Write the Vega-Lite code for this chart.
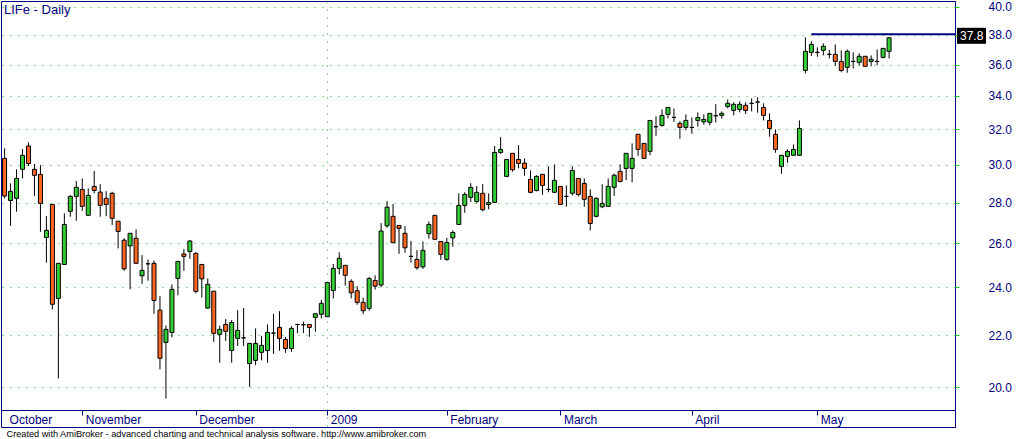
{
  "$schema": "https://vega.github.io/schema/vega-lite/v6.json",
  "width": 954,
  "height": 426,
  "autosize": {"type": "none"},
  "padding": {"left": 1, "top": 1, "right": 61, "bottom": 12},
  "background": "white",
  "title": {"text": "LIFe - Daily", "anchor": "start", "frame": "group", "offset": -16, "font": "Liberation Sans", "fontSize": 13, "fontWeight": "normal", "color": "#000080", "dx": 3},
  "datasets": {
    "candles": [
      {"i":0,"o":30.35,"h":30.91,"l":28.22,"c":28.34},
      {"i":1,"o":28.11,"h":29.00,"l":26.84,"c":28.58},
      {"i":2,"o":28.22,"h":29.75,"l":27.54,"c":29.26},
      {"i":3,"o":29.75,"h":30.87,"l":29.26,"c":30.52},
      {"i":4,"o":31.04,"h":31.25,"l":29.93,"c":30.07},
      {"i":5,"o":29.75,"h":30.04,"l":28.35,"c":29.43},
      {"i":6,"o":29.48,"h":29.98,"l":26.55,"c":27.96},
      {"i":7,"o":26.28,"h":27.32,"l":25.10,"c":26.62},
      {"i":8,"o":27.91,"h":27.91,"l":23.05,"c":23.27},
      {"i":9,"o":23.52,"h":25.07,"l":20.33,"c":25.07},
      {"i":10,"o":25.02,"h":27.46,"l":25.02,"c":26.91},
      {"i":11,"o":27.56,"h":28.39,"l":27.29,"c":28.32},
      {"i":12,"o":28.32,"h":29.12,"l":27.09,"c":28.79},
      {"i":13,"o":28.68,"h":29.26,"l":27.59,"c":27.81},
      {"i":14,"o":27.36,"h":28.74,"l":27.36,"c":28.37},
      {"i":15,"o":28.84,"h":29.66,"l":28.48,"c":28.63},
      {"i":16,"o":28.54,"h":28.96,"l":27.29,"c":27.86},
      {"i":17,"o":28.22,"h":28.59,"l":27.32,"c":27.91},
      {"i":18,"o":28.48,"h":28.56,"l":26.88,"c":27.21},
      {"i":19,"o":27.07,"h":27.07,"l":25.76,"c":26.57},
      {"i":20,"o":26.15,"h":26.24,"l":24.73,"c":24.82},
      {"i":21,"o":25.88,"h":26.48,"l":23.91,"c":26.48},
      {"i":22,"o":26.24,"h":26.67,"l":25.07,"c":25.07},
      {"i":23,"o":24.51,"h":25.45,"l":24.15,"c":24.75},
      {"i":24,"o":25.05,"h":25.25,"l":24.29,"c":25.05},
      {"i":25,"o":25.07,"h":25.20,"l":22.87,"c":23.43},
      {"i":26,"o":23.02,"h":23.62,"l":20.67,"c":21.09},
      {"i":27,"o":21.71,"h":22.39,"l":19.60,"c":22.23},
      {"i":28,"o":22.11,"h":24.13,"l":21.91,"c":23.91},
      {"i":29,"o":24.39,"h":25.16,"l":23.65,"c":25.16},
      {"i":30,"o":25.50,"h":25.73,"l":24.73,"c":25.39},
      {"i":31,"o":25.62,"h":26.15,"l":25.28,"c":26.11},
      {"i":32,"o":25.53,"h":25.58,"l":23.74,"c":23.82},
      {"i":33,"o":25.02,"h":25.04,"l":23.56,"c":24.37},
      {"i":34,"o":23.11,"h":24.39,"l":23.08,"c":24.13},
      {"i":35,"o":23.83,"h":23.83,"l":21.73,"c":22.07},
      {"i":36,"o":22.03,"h":22.38,"l":20.92,"c":22.23},
      {"i":37,"o":22.43,"h":22.65,"l":21.77,"c":22.15},
      {"i":38,"o":21.39,"h":22.61,"l":20.92,"c":22.51},
      {"i":39,"o":21.87,"h":23.02,"l":21.57,"c":22.19},
      {"i":40,"o":21.89,"h":23.11,"l":21.57,"c":21.89},
      {"i":41,"o":20.89,"h":21.67,"l":20.02,"c":21.67},
      {"i":42,"o":21.01,"h":22.27,"l":20.83,"c":21.67},
      {"i":43,"o":21.32,"h":21.97,"l":21.01,"c":21.59},
      {"i":44,"o":21.39,"h":22.43,"l":20.92,"c":22.11},
      {"i":45,"o":22.08,"h":22.87,"l":21.26,"c":22.08},
      {"i":46,"o":22.31,"h":22.98,"l":21.38,"c":21.87},
      {"i":47,"o":21.83,"h":21.93,"l":21.30,"c":21.47},
      {"i":48,"o":21.47,"h":22.36,"l":21.34,"c":22.27},
      {"i":49,"o":22.43,"h":22.43,"l":22.08,"c":22.43},
      {"i":50,"o":22.42,"h":22.55,"l":22.08,"c":22.42},
      {"i":51,"o":22.43,"h":22.43,"l":21.93,"c":22.31},
      {"i":52,"o":22.72,"h":22.87,"l":22.13,"c":22.87},
      {"i":53,"o":22.85,"h":23.45,"l":22.68,"c":23.31},
      {"i":54,"o":22.75,"h":24.21,"l":22.75,"c":24.21},
      {"i":55,"o":23.86,"h":25.04,"l":23.52,"c":24.84},
      {"i":56,"o":24.84,"h":25.58,"l":24.57,"c":25.30},
      {"i":57,"o":24.98,"h":24.98,"l":24.07,"c":24.53},
      {"i":58,"o":24.26,"h":24.35,"l":23.52,"c":23.76},
      {"i":59,"o":23.85,"h":24.05,"l":23.25,"c":23.35},
      {"i":60,"o":23.35,"h":23.55,"l":22.85,"c":23.00},
      {"i":61,"o":23.10,"h":24.45,"l":23.00,"c":24.39},
      {"i":62,"o":24.30,"h":24.53,"l":23.90,"c":24.05},
      {"i":63,"o":24.10,"h":26.98,"l":24.00,"c":26.59},
      {"i":64,"o":26.84,"h":28.08,"l":26.75,"c":27.77},
      {"i":65,"o":27.31,"h":27.93,"l":26.03,"c":26.03},
      {"i":66,"o":26.86,"h":26.86,"l":25.51,"c":26.72},
      {"i":67,"o":26.48,"h":26.83,"l":25.56,"c":25.79},
      {"i":68,"o":25.39,"h":26.11,"l":25.10,"c":25.39},
      {"i":69,"o":25.25,"h":25.68,"l":24.78,"c":24.87},
      {"i":70,"o":24.91,"h":26.09,"l":24.82,"c":25.67},
      {"i":71,"o":26.46,"h":27.06,"l":26.22,"c":26.91},
      {"i":72,"o":27.36,"h":27.36,"l":26.19,"c":26.19},
      {"i":73,"o":26.09,"h":26.09,"l":25.23,"c":25.48},
      {"i":74,"o":25.25,"h":26.26,"l":25.19,"c":26.04},
      {"i":75,"o":26.26,"h":26.62,"l":25.84,"c":26.52},
      {"i":76,"o":26.91,"h":28.48,"l":26.91,"c":27.86},
      {"i":77,"o":27.86,"h":28.54,"l":27.49,"c":28.42},
      {"i":78,"o":28.27,"h":29.01,"l":28.03,"c":28.79},
      {"i":79,"o":28.06,"h":28.86,"l":27.96,"c":28.53},
      {"i":80,"o":28.48,"h":28.96,"l":27.56,"c":27.64},
      {"i":81,"o":27.91,"h":28.48,"l":27.66,"c":28.01},
      {"i":82,"o":28.01,"h":31.04,"l":28.01,"c":30.68},
      {"i":83,"o":30.68,"h":31.55,"l":30.60,"c":30.85},
      {"i":84,"o":29.37,"h":30.29,"l":29.37,"c":30.29},
      {"i":85,"o":30.63,"h":30.63,"l":29.62,"c":29.73},
      {"i":86,"o":30.29,"h":31.09,"l":29.80,"c":30.07},
      {"i":87,"o":30.09,"h":30.35,"l":29.40,"c":29.80},
      {"i":88,"o":29.21,"h":29.69,"l":28.48,"c":28.53},
      {"i":89,"o":28.63,"h":29.43,"l":28.58,"c":29.37},
      {"i":90,"o":29.48,"h":29.48,"l":28.40,"c":28.89},
      {"i":91,"o":28.68,"h":29.91,"l":28.53,"c":28.68},
      {"i":92,"o":28.53,"h":30.02,"l":28.49,"c":29.16},
      {"i":93,"o":28.84,"h":28.84,"l":27.91,"c":27.91},
      {"i":94,"o":28.32,"h":28.89,"l":27.79,"c":28.32},
      {"i":95,"o":28.48,"h":29.91,"l":28.37,"c":29.69},
      {"i":96,"o":29.26,"h":29.26,"l":28.32,"c":28.42},
      {"i":97,"o":29.00,"h":29.26,"l":27.79,"c":28.17},
      {"i":98,"o":28.32,"h":28.68,"l":26.62,"c":26.96},
      {"i":99,"o":27.31,"h":28.27,"l":27.26,"c":28.22},
      {"i":100,"o":27.79,"h":28.95,"l":27.72,"c":27.96},
      {"i":101,"o":27.81,"h":29.26,"l":27.81,"c":28.84},
      {"i":102,"o":28.79,"h":29.53,"l":28.35,"c":29.43},
      {"i":103,"o":29.64,"h":30.02,"l":29.05,"c":29.10},
      {"i":104,"o":29.80,"h":30.63,"l":29.17,"c":30.63},
      {"i":105,"o":29.80,"h":31.19,"l":29.05,"c":30.35},
      {"i":106,"o":31.71,"h":31.71,"l":30.49,"c":30.85},
      {"i":107,"o":31.19,"h":31.19,"l":30.35,"c":30.35},
      {"i":108,"o":30.74,"h":32.52,"l":30.52,"c":32.52},
      {"i":109,"o":32.15,"h":32.76,"l":31.62,"c":32.15},
      {"i":110,"o":32.23,"h":33.18,"l":32.15,"c":32.82},
      {"i":111,"o":32.88,"h":33.30,"l":32.64,"c":33.30},
      {"i":112,"o":32.70,"h":33.24,"l":32.44,"c":32.70},
      {"i":113,"o":32.35,"h":32.47,"l":31.45,"c":32.11},
      {"i":114,"o":32.11,"h":32.88,"l":31.94,"c":32.52},
      {"i":115,"o":32.11,"h":32.70,"l":31.74,"c":32.11},
      {"i":116,"o":32.52,"h":33.00,"l":32.15,"c":32.69},
      {"i":117,"o":32.44,"h":32.88,"l":32.26,"c":32.58},
      {"i":118,"o":32.41,"h":32.94,"l":32.23,"c":32.94},
      {"i":119,"o":32.80,"h":33.50,"l":32.41,"c":32.80},
      {"i":120,"o":32.82,"h":33.06,"l":32.62,"c":32.94},
      {"i":121,"o":33.36,"h":33.79,"l":33.24,"c":33.55},
      {"i":122,"o":33.12,"h":33.61,"l":32.82,"c":33.49},
      {"i":123,"o":33.18,"h":33.67,"l":33.00,"c":33.49},
      {"i":124,"o":33.43,"h":33.61,"l":32.90,"c":33.12},
      {"i":125,"o":33.55,"h":33.85,"l":33.06,"c":33.55},
      {"i":126,"o":33.63,"h":33.92,"l":32.98,"c":33.63},
      {"i":127,"o":33.30,"h":33.55,"l":32.52,"c":32.82},
      {"i":128,"o":32.52,"h":32.94,"l":31.57,"c":32.05},
      {"i":129,"o":31.71,"h":31.99,"l":30.66,"c":30.85},
      {"i":130,"o":29.91,"h":30.52,"l":29.51,"c":30.52},
      {"i":131,"o":30.46,"h":30.85,"l":30.11,"c":30.74},
      {"i":132,"o":30.52,"h":31.13,"l":30.52,"c":30.85},
      {"i":133,"o":30.52,"h":32.52,"l":30.52,"c":32.05},
      {"i":134,"o":35.62,"h":37.83,"l":35.43,"c":36.88},
      {"i":135,"o":36.81,"h":37.56,"l":36.57,"c":37.35},
      {"i":136,"o":36.81,"h":37.15,"l":36.52,"c":36.81},
      {"i":137,"o":36.95,"h":37.42,"l":36.61,"c":37.22},
      {"i":138,"o":36.68,"h":36.97,"l":36.41,"c":36.68},
      {"i":139,"o":36.68,"h":37.35,"l":35.93,"c":36.21},
      {"i":140,"o":36.21,"h":36.95,"l":35.50,"c":35.62},
      {"i":141,"o":35.82,"h":37.01,"l":35.47,"c":36.88},
      {"i":142,"o":36.21,"h":36.81,"l":35.75,"c":36.21},
      {"i":143,"o":36.15,"h":36.75,"l":35.95,"c":36.55},
      {"i":144,"o":36.55,"h":36.55,"l":35.89,"c":35.89},
      {"i":145,"o":36.21,"h":36.61,"l":35.89,"c":36.35},
      {"i":146,"o":36.21,"h":37.01,"l":35.95,"c":36.21},
      {"i":147,"o":36.48,"h":37.08,"l":36.41,"c":37.08},
      {"i":148,"o":36.88,"h":37.85,"l":36.41,"c":37.80}
    ],
    "trend": [{"i": 135, "p": 38.05}],
    "last": [{"p": 37.8, "label": "37.8"}]
  },
  "layer": [
    {
      "data": {"name": "candles"},
      "mark": {"type": "rule", "color": "black", "strokeWidth": 1},
      "encoding": {
        "x": {
          "field": "i", "type": "quantitative",
          "scale": {"domain": [-0.6, 159.03], "nice": false, "zero": false, "padding": 0},
          "axis": {
            "orient": "bottom", "offset": -17,
            "values": [0.25, 13, 32, 54, 74, 93, 115, 136],
            "labelExpr": "datum.value < 5 ? 'October' : datum.value < 20 ? 'November' : datum.value < 40 ? 'December' : datum.value < 60 ? '2009' : datum.value < 80 ? 'February' : datum.value < 100 ? 'March' : datum.value < 120 ? 'April' : 'May'",
            "domain": true, "domainColor": "#000080", "domainWidth": 1,
            "ticks": true, "tickColor": "#000080", "tickSize": 5, "tickWidth": 1,
            "tickOpacity": {"condition": {"test": "datum.value < 1", "value": 0}, "value": 1},
            "labelAlign": "left", "labelBaseline": "alphabetic", "labelPadding": 8, "labelOffset": 3,
            "labelFont": "Liberation Sans", "labelFontSize": 12, "labelColor": "#000080",
            "labelFlush": false, "labelOverlap": false, "labelBound": false,
            "grid": true, "gridColor": "#22AA22", "gridDash": [1, 7],
            "gridOpacity": {"condition": {"test": "datum.value == 54", "value": 1}, "value": 0},
            "title": "Created with AmiBroker - advanced charting and technical analysis software. http://www.amibroker.com",
            "titleFont": "Liberation Sans", "titleFontSize": 9.2, "titleFontWeight": "normal", "titleColor": "black",
            "titleAnchor": "start", "titleAlign": "left", "titleBaseline": "alphabetic", "titleX": 5, "titleY": 26.5
          }
        },
        "y": {
          "field": "l", "type": "quantitative",
          "scale": {"type": "log", "domain": [18.61, 40.42], "nice": false, "padding": 0},
          "axis": {
            "orient": "right", "values": [20, 22, 24, 26, 28, 30, 32, 34, 36, 38, 40], "format": ".1f",
            "domain": false, "ticks": true, "tickColor": "#22CC22", "tickSize": 4,
            "labelPadding": 29, "labelAlign": "left", "labelBaseline": "middle",
            "labelFont": "Liberation Sans", "labelFontSize": 12, "labelColor": "#000080",
            "labelFlush": false, "labelOverlap": false,
            "grid": true, "gridColor": "#00CC00", "gridDash": [1, 7], "title": null
          }
        },
        "y2": {"field": "h"}
      }
    },
    {
      "data": {"name": "candles"},
      "mark": {"type": "bar", "width": 4, "stroke": "black", "strokeWidth": 1},
      "encoding": {
        "x": {"field": "i", "type": "quantitative"},
        "y": {"field": "o", "type": "quantitative"},
        "y2": {"field": "c"},
        "fill": {"condition": {"test": "datum.c >= datum.o", "value": "#33CC33"}, "value": "#FF6622"}
      }
    },
    {
      "data": {"name": "trend"},
      "mark": {"type": "rule", "color": "#000080", "strokeWidth": 2},
      "encoding": {
        "x": {"field": "i", "type": "quantitative"},
        "x2": {"value": "width"},
        "y": {"field": "p", "type": "quantitative"}
      }
    },
    {
      "data": {"name": "last"},
      "mark": {"type": "rect", "color": "black", "xOffset": 2, "x2Offset": 31, "yOffset": -10, "y2Offset": 6},
      "encoding": {
        "x": {"value": "width"},
        "x2": {"value": "width"},
        "y": {"field": "p", "type": "quantitative"},
        "y2": {"field": "p"}
      }
    },
    {
      "data": {"name": "last"},
      "mark": {"type": "text", "color": "white", "align": "left", "baseline": "middle", "dx": 5, "dy": -2, "font": "Liberation Sans", "fontSize": 12},
      "encoding": {
        "x": {"value": "width"},
        "y": {"field": "p", "type": "quantitative"},
        "text": {"field": "label"}
      }
    }
  ],
  "config": {
    "view": {"stroke": "#000080", "strokeWidth": 1},
    "axisRight": {"labelPadding": 29},
    "axisY": {"labelPadding": 29}
  }
}
